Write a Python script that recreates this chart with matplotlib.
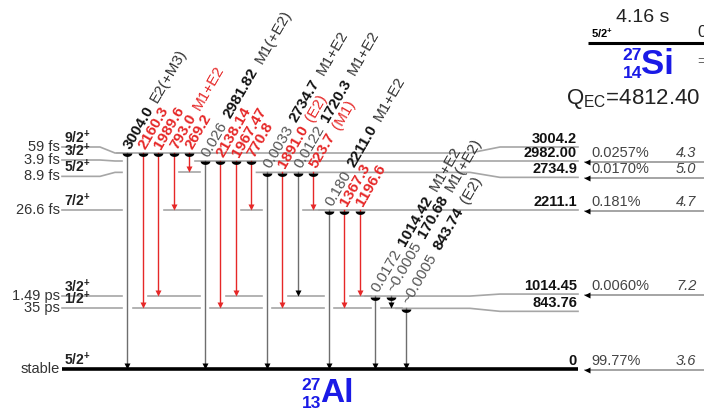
import numpy as np
import matplotlib
matplotlib.use('Agg')
import matplotlib.pyplot as plt

plt.rcParams['font.family'] = ['Liberation Sans', 'DejaVu Sans']
plt.rcParams['mathtext.fontset'] = 'custom'
plt.rcParams['mathtext.rm'] = 'Liberation Sans'
plt.rcParams['mathtext.bf'] = 'Liberation Sans:bold'
plt.rcParams['mathtext.it'] = 'Liberation Sans:italic'

# ── Data: 27Si -> 27Al decay scheme ───────────────────────────────────────────
lev_energy = [3004.2, 2982.00, 2734.9, 2211.1, 1014.45, 843.76, 0.0]
lev_text   = ['3004.2', '2982.00', '2734.9', '2211.1', '1014.45', '843.76', '0']
lev_spin   = ['9/2', '3/2', '5/2', '7/2', '3/2', '1/2', '5/2']
lev_life   = ['59 fs', '3.9 fs', '8.9 fs', '26.6 fs', '1.49 ps', '35 ps', 'stable']
feed_pct   = ['', '0.0257%', '0.0170%', '0.181%', '0.0060%', '', '99.77%']
feed_logft = ['', '4.3', '5.0', '4.7', '7.2', '', '3.6']

g_parent   = [0, 0, 0, 0, 0, 1, 1, 1, 1, 2, 2, 2, 2, 3, 3, 3, 4, 4, 5]
g_daughter = [6, 5, 4, 3, 2, 6, 5, 4, 3, 6, 5, 4, 3, 6, 5, 4, 6, 5, 6]
g_energy   = ['3004.0', '2160.3', '1989.6', '793.0', '269.2',
              '2981.82', '2138.14', '1967.47', '770.8',
              '2734.7', '1891.0', '1720.3', '523.7',
              '2211.0', '1367.3', '1196.6',
              '1014.42', '170.68', '843.74']
g_intens   = ['', '', '', '', '', '0.026', '', '', '', '0.0033', '', '0.0122', '',
              '0.180', '', '', '0.0172', '~0.0005', '~0.0005']
g_mult     = ['E2(+M3)', '', '', 'M1+E2', '', 'M1(+E2)', '', '', '',
              'M1+E2', '(E2)', 'M1+E2', '(M1)', 'M1+E2', '', '',
              'M1+E2', 'M1(+E2)', '(E2)']
g_red      = [0, 1, 1, 1, 1, 0, 1, 1, 1, 0, 1, 0, 1, 0, 1, 1, 0, 0, 0]

parent_halflife = '4.16 s'
parent_spin = '5/2'
q_ec = '4812.40'

# ── Layout (pixel-like coordinates) ───────────────────────────────────────────
RED = '#e62828'
BLUE = '#1a1ae6'
GREY = '#a6a6a6'
Y0, K = 369.0, 0.0719          # ground position, px per keV
X0, DX = 127.0, 15.5           # first transition, spacing
X_BEND, X_RIGHT = 470, 578
left_shift  = [-6, -1, 4, 0, 0, 0, 0]
right_shift = [-6, 0, 5, 0, -2, 3, 0]

# level display positions, close levels pushed apart
ly = [Y0 - K * e for e in lev_energy]
for i in range(1, len(ly)):
    if ly[i] < ly[i - 1] + 8:
        ly[i] = ly[i - 1] + 8
ly = np.array(ly)
gx = X0 + DX * np.arange(len(g_energy))

fig = plt.figure(figsize=(7.04, 4.16), dpi=100)
ax = fig.add_axes([0, 0, 1, 1])
ax.set_xlim(0, 704)
ax.set_ylim(416, 0)
ax.axis('off')
rend = fig.canvas.get_renderer()

# ── Level lines ───────────────────────────────────────────────────────────────
n_lev = len(lev_energy)
for i in range(n_lev):
    yl = ly[i] + left_shift[i]
    yr = ly[i] + right_shift[i]
    if i == n_lev - 1:
        ax.plot([62, X_RIGHT], [ly[i], ly[i]], color='k', lw=2.6, solid_capstyle='butt', zorder=3)
    else:
        ax.plot([62, 100, 115, 122], [yl, yl, ly[i], ly[i]], color=GREY, lw=1.2, zorder=1)
        own = [gx[j] for j in range(len(g_energy)) if g_parent[j] == i]
        ax.plot([min(own) - 10, X_BEND, 500, X_RIGHT], [ly[i], ly[i], yr, yr],
                color=GREY, lw=1.2, zorder=1)
    # left labels
    ax.text(60, yl, lev_life[i], ha='right', va='center', fontsize=10.5, color='#333333')
    ax.text(64, yl - 1, r'$\mathbf{%s^{+}}$' % lev_spin[i], ha='left', va='bottom',
            fontsize=10, color='#222222')
    # right labels
    ax.text(577, yr - 1, lev_text[i], ha='right', va='bottom', fontsize=10.5,
            fontweight='bold', color='#111111')
    if feed_pct[i]:
        yf = yr + 1
        ax.plot([585, 704], [yf, yf], color='#8c8c8c', lw=1.1, zorder=1)
        ax.plot([587], [yf], marker='<', ms=4.5, color='k', mec='none', zorder=4)
        ax.text(591, yf - 2, feed_pct[i], ha='left', va='bottom', fontsize=10.5, color='#444444')
        ax.text(676, yf - 2, feed_logft[i], ha='left', va='bottom', fontsize=10.5,
                style='italic', color='#444444')

# daughter-level segments under each parent group
for p in range(n_lev):
    idx = [j for j in range(len(g_energy)) if g_parent[j] == p]
    if not idx:
        continue
    gend = max(gx[j] for j in idx) + 11
    for d in set(g_daughter[j] for j in idx):
        if d == n_lev - 1:
            continue
        xs = min(gx[j] for j in idx if g_daughter[j] == d) - 10
        ax.plot([xs, gend], [ly[d], ly[d]], color=GREY, lw=1.2, zorder=1)

# ── Transitions ───────────────────────────────────────────────────────────────
half = np.linspace(0, np.pi, 20)
dome = list(zip(np.cos(half), -np.sin(half) * 0.7))

ang = np.deg2rad(60)
fs = 11

def text_width(s, **kw):
    t = ax.text(0, 0, s, fontsize=fs, **kw)
    w = t.get_window_extent(renderer=rend).width
    t.remove()
    return w

gap = text_width(' ') + 3

for j in range(len(g_energy)):
    x = gx[j]
    y1, y2 = ly[g_parent[j]], ly[g_daughter[j]]
    col = RED if g_red[j] else '#6e6e6e'
    head = RED if g_red[j] else 'k'
    ax.plot([x, x], [y1, y2 - 3], color=col, lw=1.0, zorder=2)
    ax.plot([x], [y2 - 3.2], marker='v', ms=5, color=head, mec='none', zorder=4)
    ax.plot([x], [y1 + 0.5], marker=dome, ms=7, color='k', mec='none', zorder=4)

    parts = []
    if g_intens[j]:
        parts.append((g_intens[j], '#555555', 'normal'))
    parts.append((g_energy[j], RED if g_red[j] else '#111111', 'bold'))
    if g_mult[j]:
        parts.append((g_mult[j], RED if g_red[j] else '#333333', 'normal'))
    d = 0.0
    for s, c, w in parts:
        ax.annotate(s, xy=(x, y1 - 5), xytext=(d * np.cos(ang), d * np.sin(ang)),
                    textcoords='offset pixels', rotation=60, rotation_mode='anchor',
                    ha='left', va='center', fontsize=fs, fontweight=w, color=c)
        d += text_width(s, fontweight=w) + gap

# ── Parent 27Si ───────────────────────────────────────────────────────────────
ax.plot([588, 704], [43, 43], color='k', lw=2.2, solid_capstyle='butt')
ax.text(591, 40, r'$\mathbf{%s^{+}}$' % parent_spin, ha='left', va='bottom', fontsize=8)
ax.text(697, 40, '0', ha='left', va='bottom', fontsize=12, color='#222222')
ax.text(643, 17, parent_halflife, ha='center', va='center', fontsize=14, color='#222222')
ax.text(641, 65, 'Si', ha='left', va='center', fontsize=25, fontweight='bold', color=BLUE)
ax.text(642, 56, '27', ha='right', va='center', fontsize=12.5, fontweight='bold', color=BLUE)
ax.text(642, 74, '14', ha='right', va='center', fontsize=12.5, fontweight='bold', color=BLUE)
ax.text(697, 62, '=', ha='left', va='center', fontsize=11, color='#666666')
ax.text(566, 99, r'Q$_{\rm EC}$=' + q_ec, ha='left', va='center', fontsize=16, color='#222222')

# ── Daughter 27Al ─────────────────────────────────────────────────────────────
ax.text(320, 394, 'Al', ha='left', va='center', fontsize=24, fontweight='bold', color=BLUE)
ax.text(321, 385, '27', ha='right', va='center', fontsize=12.5, fontweight='bold', color=BLUE)
ax.text(321, 404, '13', ha='right', va='center', fontsize=12.5, fontweight='bold', color=BLUE)

fig.savefig('out.png', dpi=100)
